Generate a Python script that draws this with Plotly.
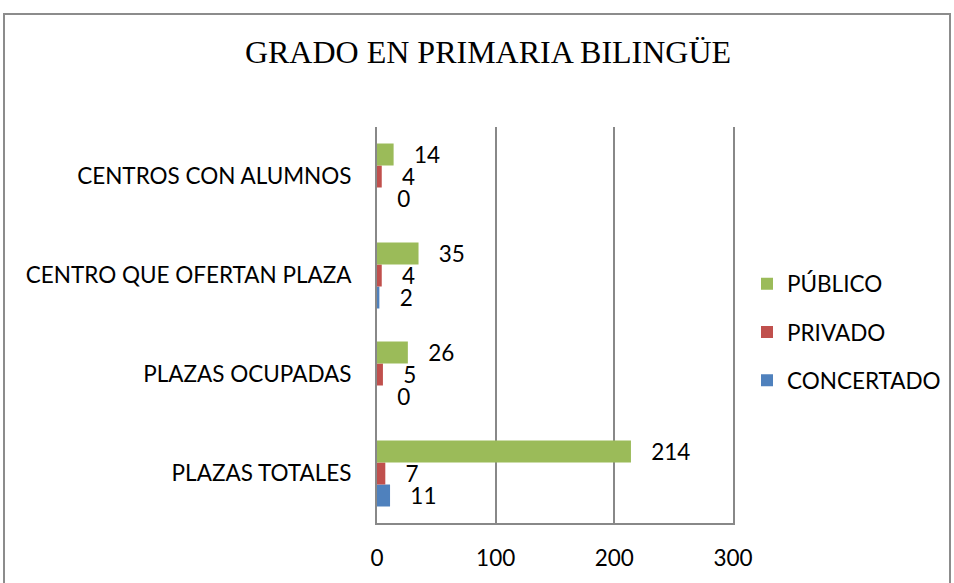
import plotly.graph_objects as go

# ── Data ────────────────────────────────────────────────────────────────
categorias = ["PLAZAS TOTALES", "PLAZAS OCUPADAS", "CENTRO QUE OFERTAN PLAZA", "CENTROS CON ALUMNOS"]
publico = [214, 26, 35, 14]
privado = [7, 5, 4, 4]
concertado = [11, 0, 2, 0]
x_ticks = [0, 100, 200, 300]

COLORS = {
    "publico": "#9BBB59",
    "privado": "#C0504D",
    "concertado": "#4F81BD",
    "grid": "#888888",
}
LABEL_FONT = dict(family="Lato, sans-serif", size=22.5, color="#000000")

W, H = 954, 583
L, R, T, B = 377, 221, 127, 60
PW, PH = W - L - R, H - T - B


def px_x(x):
    return (x - L) / PW


def px_y(y):
    return (H - B - y) / PH


fig = go.Figure()
# bottom-to-top order inside each group: concertado, privado, publico
for rank, (name, vals, key) in enumerate([
    ("CONCERTADO", concertado, "concertado"),
    ("PRIVADO", privado, "privado"),
    ("PÚBLICO", publico, "publico"),
]):
    fig.add_trace(go.Bar(
        y=categorias, x=vals, name=name, orientation="h",
        marker=dict(color=COLORS[key], line=dict(width=0)),
        text=vals, texttemplate="   %{text}", textposition="outside",
        textfont=LABEL_FONT, cliponaxis=False, constraintext="none",
        legendgroup=key, legendrank=3 - rank,
    ))

fig.update_layout(
    width=W, height=H,
    paper_bgcolor="white", plot_bgcolor="white",
    margin=dict(l=L, r=R, t=T, b=B, autoexpand=False),
    barmode="group", bargap=1 / 3, bargroupgap=0,
    font=LABEL_FONT,
    title=dict(
        text="GRADO EN PRIMARIA BILINGÜE",
        font=dict(family="Liberation Serif, serif", size=32, color="#000000"),
        x=px_x(488), xref="paper", xanchor="center",
        y=1 - 52 / H, yanchor="middle",
    ),
    showlegend=True,
    legend=dict(
        x=px_x(747), y=px_y(332), xanchor="left", yanchor="middle",
        traceorder="grouped", tracegroupgap=16,
        font=LABEL_FONT, bgcolor="rgba(0,0,0,0)",
        itemwidth=30,
    ),
    shapes=[dict(
        type="rect", xref="paper", yref="paper",
        x0=px_x(4), x1=px_x(950), y0=px_y(600), y1=px_y(14),
        line=dict(color="#8C8C8C", width=2), layer="below",
    )],
)

fig.update_xaxes(
    range=[0, 300], tickvals=x_ticks, showgrid=True,
    gridcolor=COLORS["grid"], gridwidth=2,
    showline=True, linecolor=COLORS["grid"], linewidth=2,
    zeroline=False, ticks="", ticklabelstandoff=14,
    tickfont=LABEL_FONT, automargin=False,
)
# mirrored y-axis line stands in for the 300 gridline at the right edge
fig.update_yaxes(
    showgrid=False, showline=True, linecolor=COLORS["grid"], linewidth=2,
    mirror=True, ticks="", ticklabelstandoff=19, tickfont=LABEL_FONT,
    automargin=False,
)

# remove the browser's default body margin so the figure sits at the page origin
fig.write_html(
    "out.html",
    config={"displayModeBar": False},
    post_script="document.body.style.margin='0';",
)
